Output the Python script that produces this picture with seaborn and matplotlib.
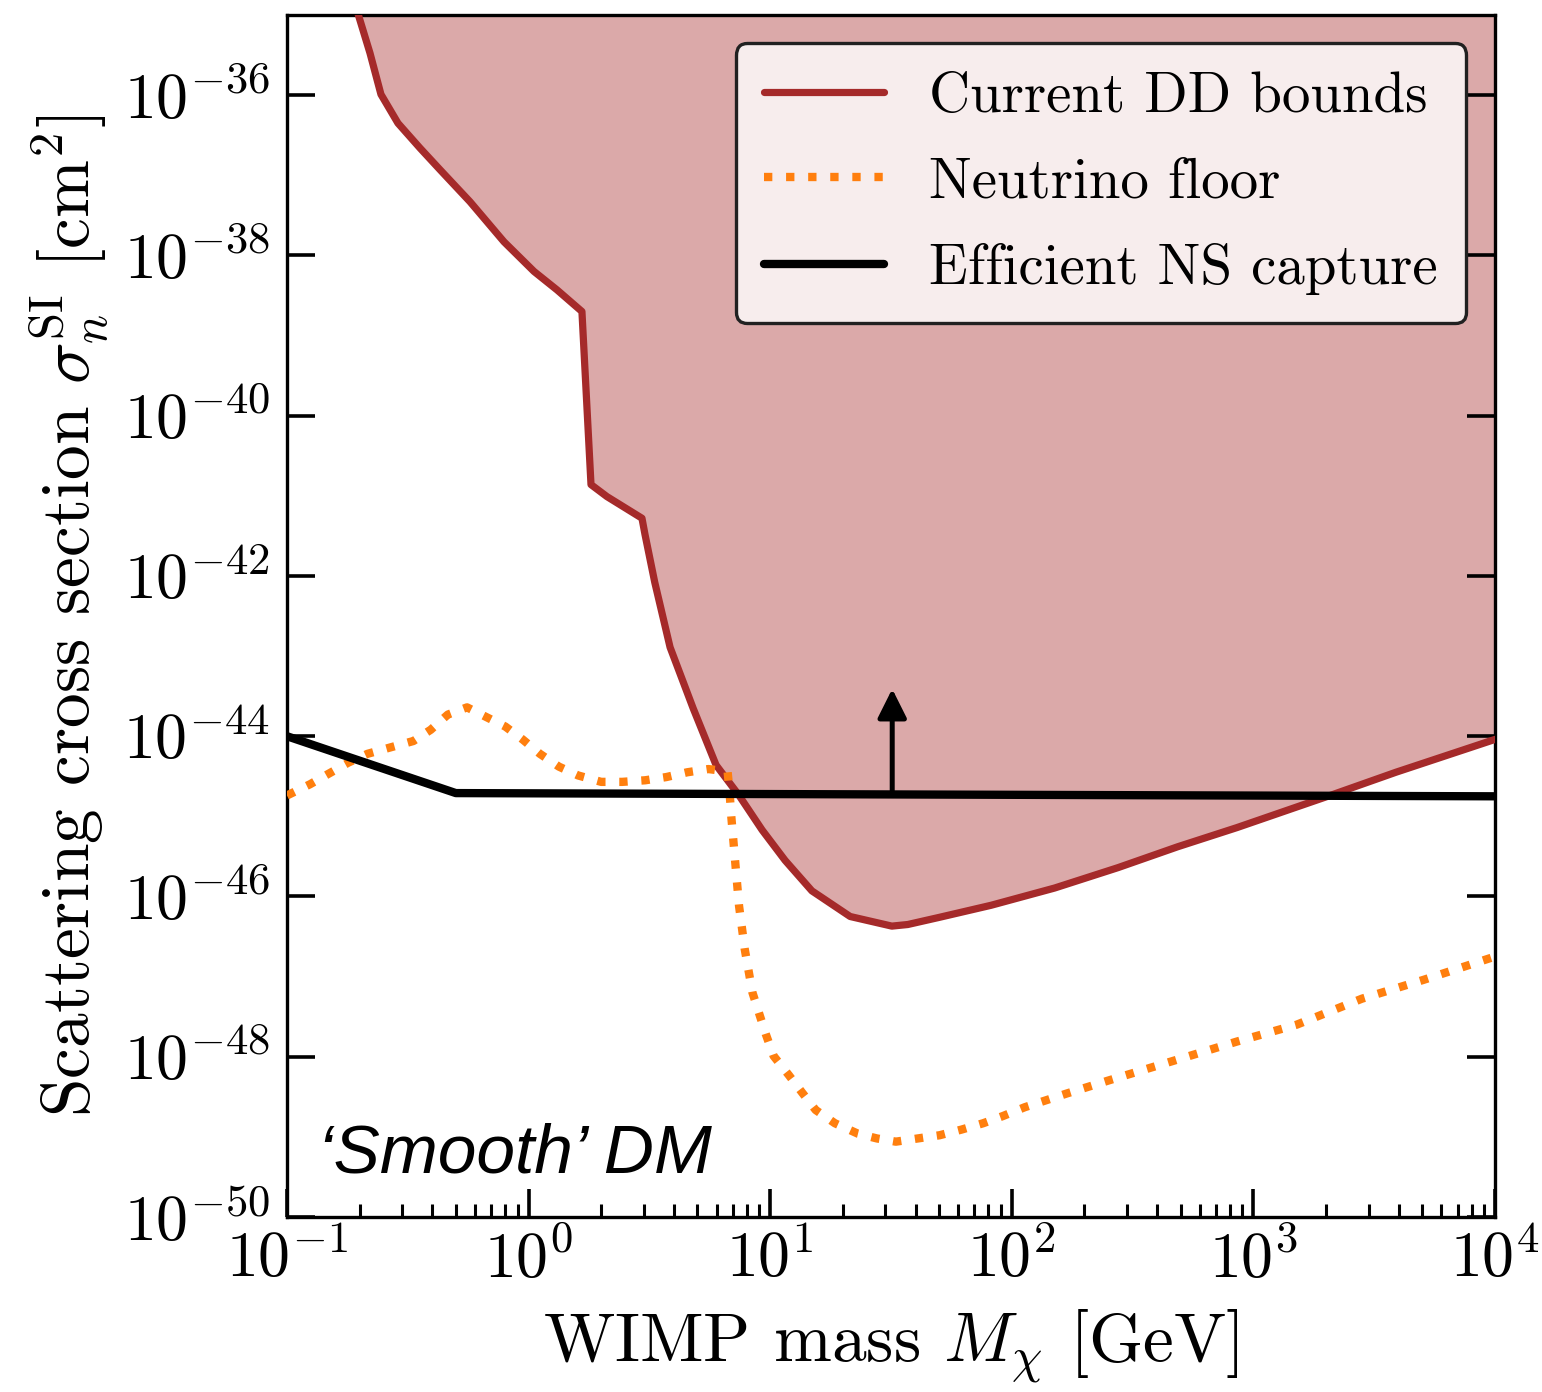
import numpy as np
import pandas as pd
import matplotlib
matplotlib.use("Agg")
import matplotlib.pyplot as plt
from matplotlib.ticker import FixedLocator, FuncFormatter, LogLocator, NullLocator, NullFormatter
import seaborn as sns

# Current direct-detection exclusion bound (upper boundary of excluded region)
dd_mass = [0.193, 0.2206, 0.2449, 0.2880, 0.3552, 0.4298, 0.5722, 0.7911, 1.053, 1.311,
           1.663, 1.813, 2.111, 2.947, 3.032, 3.329, 3.852, 4.797, 5.971, 7.435,
           9.259, 11.53, 14.88, 21.43, 31.89, 37.11, 50.22, 82.10, 150.4, 275.4,
           485.8, 856.1, 2123, 3889, 10000]
dd_sigma = [1.259e-35, 3.350e-36, 1.023e-36, 4.467e-37, 2.188e-37, 1.175e-37, 4.677e-38,
            1.479e-38, 6.310e-39, 3.715e-39, 1.995e-39, 1.380e-41, 9.772e-42, 5.248e-42,
            3.311e-42, 8.318e-43, 1.288e-43, 2.239e-44, 4.365e-45, 1.820e-45, 6.761e-46,
            2.818e-46, 1.175e-46, 5.623e-47, 4.266e-47, 4.467e-47, 5.495e-47, 7.762e-47,
            1.274e-46, 2.291e-46, 4.169e-46, 7.244e-46, 1.862e-45, 3.548e-45, 9.120e-45]

# Neutrino floor
nu_mass = [0.1, 0.1245, 0.1494, 0.1794, 0.2154, 0.2679, 0.3337, 0.3934, 0.4634, 0.5564,
           0.6675, 0.8017, 0.9445, 1.114, 1.336, 1.604, 1.998, 2.440, 3.038, 3.715,
           4.542, 5.549, 6.664, 6.784, 6.908, 7.171, 7.435, 7.850, 8.448, 9.090,
           9.598, 10.33, 11.95, 13.58, 15.43, 18.53, 23.07, 27.68, 33.14, 40.78,
           50.22, 61.80, 76.13, 91.95, 113.2, 168.4, 255.5, 467.9, 856.1, 1511,
           2818, 5069, 10000]
nu_sigma = [1.820e-45, 2.512e-45, 3.428e-45, 4.677e-45, 6.026e-45, 7.244e-45, 8.710e-45,
            1.202e-44, 1.862e-44, 2.291e-44, 1.738e-44, 1.318e-44, 9.120e-45, 6.026e-45,
            4.169e-45, 3.236e-45, 2.692e-45, 2.692e-45, 2.818e-45, 3.090e-45, 3.548e-45,
            3.890e-45, 3.631e-45, 2.089e-45, 9.772e-46, 2.630e-46, 7.586e-47, 2.188e-47,
            6.310e-48, 3.162e-48, 1.905e-48, 1.023e-48, 5.888e-49, 3.548e-49, 2.163e-49,
            1.479e-49, 1.096e-49, 9.550e-50, 8.710e-50, 9.550e-50, 1.047e-49, 1.230e-49,
            1.479e-49, 1.820e-49, 2.344e-49, 3.467e-49, 5.129e-49, 8.913e-49, 1.549e-48,
            2.512e-48, 5.309e-48, 9.120e-48, 1.778e-47]

# Cross section above which neutron-star capture is efficient
ns_mass = [0.1, 0.5, 10000]
ns_sigma = [1.0e-44, 1.950e-45, 1.778e-45]

# Upward arrow marking the efficient-capture side
arrow_mass = 32.0
arrow_sigma_from = 1.86e-45
arrow_sigma_to = 3.89e-44

y_tick_exps = [-50, -48, -46, -44, -42, -40, -38, -36]

dd_df = pd.DataFrame({"mass": dd_mass, "sigma": dd_sigma})
nu_df = pd.DataFrame({"mass": nu_mass, "sigma": nu_sigma})
ns_df = pd.DataFrame({"mass": ns_mass, "sigma": ns_sigma})

sns.set_theme(style="ticks")
plt.rcParams.update({
    "font.family": "serif",
    "font.serif": ["cmr10", "DejaVu Serif"],
    "mathtext.fontset": "cm",
    "axes.unicode_minus": False,
    "axes.formatter.use_mathtext": True,
    "axes.linewidth": 1.2,
    "axes.edgecolor": "black",
    "text.color": "black",
    "axes.labelcolor": "black",
    "xtick.color": "black",
    "ytick.color": "black",
})

DD_COLOR = "#a52a2a"
NU_COLOR = "#ff7f0e"

fig = plt.figure(figsize=(7.71, 6.96), dpi=200)
ax = fig.add_axes([0.1861, 0.12572, 0.9695 - 0.1861, 0.98922 - 0.12572])
ax.set_axisbelow(False)

ax.fill_between(dd_mass, dd_sigma, 1e-30, color=DD_COLOR, alpha=0.4, lw=0, zorder=0.5)
sns.lineplot(data=dd_df, x="mass", y="sigma", ax=ax, color=DD_COLOR, lw=2.6,
             sort=False, estimator=None, label="Current DD bounds", zorder=3)
sns.lineplot(data=nu_df, x="mass", y="sigma", ax=ax, color=NU_COLOR, lw=3.0,
             linestyle=":", sort=False, estimator=None, label="Neutrino floor", zorder=3)
sns.lineplot(data=ns_df, x="mass", y="sigma", ax=ax, color="black", lw=3.0,
             sort=False, estimator=None, label="Efficient NS capture", zorder=4)

ax.annotate("", xy=(arrow_mass, arrow_sigma_to), xytext=(arrow_mass, arrow_sigma_from),
            arrowprops=dict(arrowstyle="-|>,head_length=0.4,head_width=0.2",
                            mutation_scale=22, lw=1.8, color="black",
                            shrinkA=0, shrinkB=0), zorder=5)

ax.set_xscale("log")
ax.set_yscale("log")
ax.set_xlim(1e-1, 1e4)
ax.set_ylim(1e-50, 1e-35)

ax.xaxis.set_major_locator(FixedLocator([1e-1, 1e0, 1e1, 1e2, 1e3, 1e4]))
ax.xaxis.set_major_formatter(FuncFormatter(lambda v, p: r"$10^{%d}$" % round(np.log10(v))))
ax.xaxis.set_minor_locator(LogLocator(base=10, subs=np.arange(2, 10), numticks=50))
ax.xaxis.set_minor_formatter(NullFormatter())
ax.yaxis.set_major_locator(FixedLocator([10.0 ** e for e in y_tick_exps]))
ax.yaxis.set_major_formatter(FuncFormatter(lambda v, p: r"$10^{%d}$" % round(np.log10(v))))
ax.yaxis.set_minor_locator(NullLocator())

ax.tick_params(axis="both", which="major", direction="in", length=10, width=1.3,
               labelsize=23, colors="black")
ax.tick_params(axis="x", which="minor", direction="in", length=4.7, width=1.1,
               top=False, bottom=True, colors="black")
ax.tick_params(axis="x", which="major", pad=5, top=False)
ax.tick_params(axis="y", which="major", pad=6, left=True, right=True)

ax.set_xlabel(r"WIMP mass $M_\chi$ [GeV]", fontsize=25, labelpad=6)
ax.set_ylabel(r"Scattering cross section $\sigma_n^{\rm SI}$ [cm$^2$]", fontsize=25, labelpad=4.5)

for s in ax.spines.values():
    s.set_linewidth(1.2)
    s.set_color("black")

leg = ax.legend(loc="upper right", fontsize=20.5, frameon=True, fancybox=True,
                borderaxespad=0.5, handlelength=2.1, handletextpad=0.8,
                labelspacing=0.6, borderpad=0.5)
frame = leg.get_frame()
frame.set_alpha(None)
frame.set_facecolor((1, 1, 1, 0.8))
frame.set_edgecolor((0.13, 0.13, 0.13, 1.0))
frame.set_linewidth(1.2)

ax.text(0.0257, 0.0374, "\u2018Smooth\u2019 DM", transform=ax.transAxes,
        fontsize=25, style="italic", family=["Liberation Sans", "DejaVu Sans"],
        ha="left", va="baseline", zorder=6)

fig.savefig("out.png", dpi=200)
